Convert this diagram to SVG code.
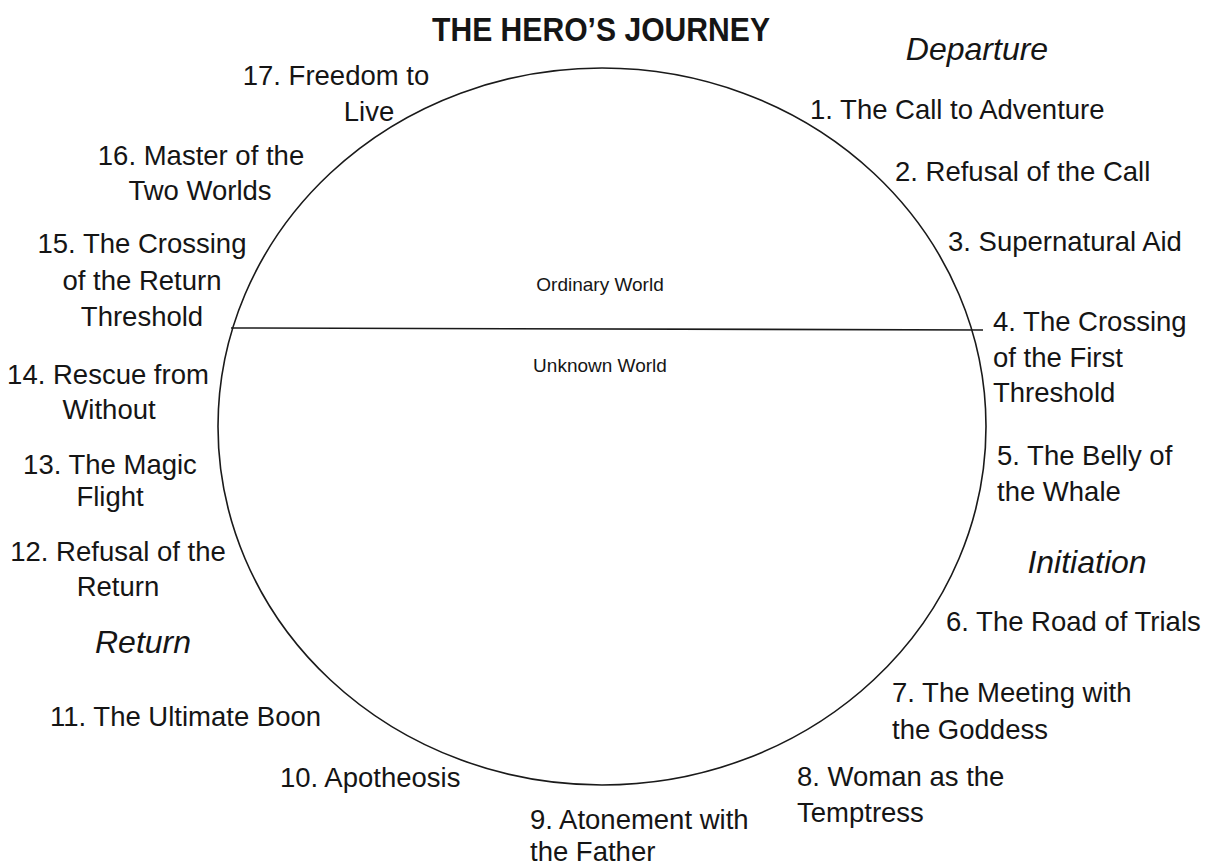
<svg xmlns="http://www.w3.org/2000/svg" width="1205" height="865" viewBox="0 0 1205 865">
<style>
text{font-family:"Liberation Sans",Arial,sans-serif;fill:#151515;}
.lbl{font-size:27.5px;}
.mid{text-anchor:middle;}
.phase{font-size:32px;font-style:italic;text-anchor:middle;}
.title{font-size:33px;font-weight:bold;text-anchor:middle;}
.small{font-size:19px;text-anchor:middle;}
.shape{fill:none;stroke:#1a1a1a;stroke-width:1.6;}
</style>
<rect width="1205" height="865" fill="#ffffff"/>
<g id="title"><text class="title" x="601" y="41" textLength="338" lengthAdjust="spacingAndGlyphs">THE HERO’S JOURNEY</text></g>
<g id="connectors">
<ellipse class="shape" cx="602" cy="426.5" rx="384" ry="358.5"/>
<line class="shape" x1="231" y1="328" x2="983" y2="330"/>
</g>
<g id="ordinary-world"><text class="small" x="600" y="291">Ordinary World</text></g>
<g id="unknown-world"><text class="small" x="600" y="372">Unknown World</text></g>
<g id="departure"><text class="phase" x="977" y="60">Departure</text></g>
<g id="initiation"><text class="phase" x="1087" y="573">Initiation</text></g>
<g id="return"><text class="phase" x="143" y="653">Return</text></g>
<g id="s1"><text class="lbl" x="810" y="119">1. The Call to Adventure</text></g>
<g id="s2"><text class="lbl" x="895" y="181">2. Refusal of the Call</text></g>
<g id="s3"><text class="lbl" x="948" y="251">3. Supernatural Aid</text></g>
<g id="s4"><text class="lbl" x="993" y="331">4. The Crossing</text><text class="lbl" x="993" y="367">of the First</text><text class="lbl" x="993" y="402">Threshold</text></g>
<g id="s5"><text class="lbl" x="997" y="465">5. The Belly of</text><text class="lbl" x="997" y="501">the Whale</text></g>
<g id="s6"><text class="lbl" x="946" y="631">6. The Road of Trials</text></g>
<g id="s7"><text class="lbl" x="892" y="702">7. The Meeting with</text><text class="lbl" x="892" y="739">the Goddess</text></g>
<g id="s8"><text class="lbl" x="797" y="786">8. Woman as the</text><text class="lbl" x="797" y="822">Temptress</text></g>
<g id="s9"><text class="lbl" x="530" y="829">9. Atonement with</text><text class="lbl" x="530" y="861">the Father</text></g>
<g id="s10"><text class="lbl" x="280" y="787">10. Apotheosis</text></g>
<g id="s11"><text class="lbl" x="50" y="726">11. The Ultimate Boon</text></g>
<g id="s12"><text class="lbl mid" x="118" y="561">12. Refusal of the</text><text class="lbl mid" x="118" y="596">Return</text></g>
<g id="s13"><text class="lbl mid" x="110" y="474">13. The Magic</text><text class="lbl mid" x="110" y="506">Flight</text></g>
<g id="s14"><text class="lbl mid" x="108" y="384">14. Rescue from</text><text class="lbl mid" x="109" y="419">Without</text></g>
<g id="s15"><text class="lbl mid" x="142" y="253">15. The Crossing</text><text class="lbl mid" x="142" y="290">of the Return</text><text class="lbl mid" x="142" y="326">Threshold</text></g>
<g id="s16"><text class="lbl mid" x="201" y="165">16. Master of the</text><text class="lbl mid" x="200" y="200">Two Worlds</text></g>
<g id="s17"><text class="lbl mid" x="336" y="85">17. Freedom to</text><text class="lbl mid" x="369" y="121">Live</text></g>
</svg>
